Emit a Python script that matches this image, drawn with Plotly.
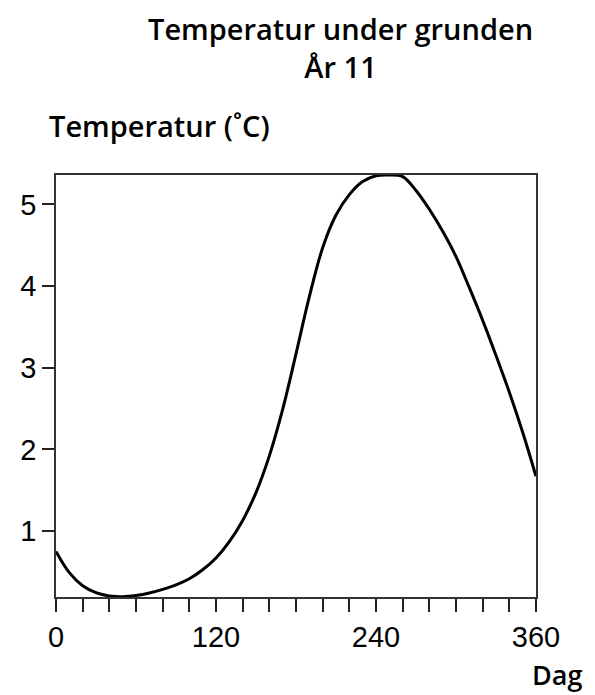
import plotly.graph_objects as go

days = [0, 10, 20, 30, 40, 50, 60, 70, 80, 90, 100, 110, 120, 130, 140, 150, 160, 170, 180,
        190, 200, 210, 220, 230, 240, 250, 260, 270, 280, 290, 300, 310, 320, 330, 340, 350, 360]
temps = [0.75, 0.49, 0.33, 0.245, 0.205, 0.195, 0.21, 0.24, 0.285, 0.34, 0.415, 0.525, 0.67,
         0.87, 1.13, 1.47, 1.92, 2.49, 3.17, 3.87, 4.47, 4.87, 5.12, 5.28, 5.35, 5.36, 5.34,
         5.17, 4.94, 4.67, 4.36, 3.98, 3.58, 3.15, 2.70, 2.21, 1.67]

x_tickvals = [0, 120, 240, 360]
y_tickvals = [1, 2, 3, 4, 5]

title_text = "Temperatur under grunden<br>År 11"
y_title = "Temperatur (˚C)"
x_title = "Dag"

OFF = 8  # page body margin
W, H = 595 - OFF, 695 - OFF
L, R, T, B = 56 - OFF, 59, 175 - OFF, 98

fig = go.Figure()
fig.add_trace(go.Scatter(x=days, y=temps, mode="lines", line=dict(color="black", width=3, shape="spline"),
                         showlegend=False, hoverinfo="skip"))

axis_font = dict(family="Liberation Sans, Arial, sans-serif", size=29, color="black")
text_font = dict(family="Open Sans, sans-serif", size=29, color="black", weight=600)

fig.update_layout(
    width=W, height=H,
    margin=dict(l=L, r=R, t=T, b=B),
    paper_bgcolor="white", plot_bgcolor="white",
    xaxis=dict(range=[0, 360], tickvals=x_tickvals, ticks="outside", ticklen=13, tickwidth=1.5,
               tickcolor="#222", showline=True, linecolor="#333", linewidth=1.5, mirror=True,
               showgrid=False, zeroline=False, tickfont=axis_font,
               minor=dict(dtick=20, tick0=0, ticks="outside", ticklen=13, tickwidth=1.5,
                          tickcolor="#222", showgrid=False)),
    yaxis=dict(range=[0.192, 5.36], tickvals=y_tickvals, ticks="outside", ticklen=12, tickwidth=1.5,
               tickcolor="#222", showline=True, linecolor="#333", linewidth=1.5, mirror=True,
               showgrid=False, zeroline=False, tickfont=axis_font),
)

def px(x):
    return (x - OFF - L) / (W - L - R)

def py(y):
    return (H - B - (y - OFF)) / (H - T - B)

fig.add_annotation(text=title_text, x=px(340), y=py(47), xref="paper", yref="paper",
                   showarrow=False, font=text_font, xanchor="center", yanchor="middle", align="center")
fig.add_annotation(text=y_title, x=px(47), y=py(125), xref="paper", yref="paper",
                   showarrow=False, font=text_font, xanchor="left", yanchor="middle")
fig.add_annotation(text=x_title, x=px(584), y=py(674), xref="paper", yref="paper",
                   showarrow=False, font=dict(family="Open Sans, sans-serif", size=27, color="black", weight=600),
                   xanchor="right", yanchor="middle")

fig.write_html("out.html")
